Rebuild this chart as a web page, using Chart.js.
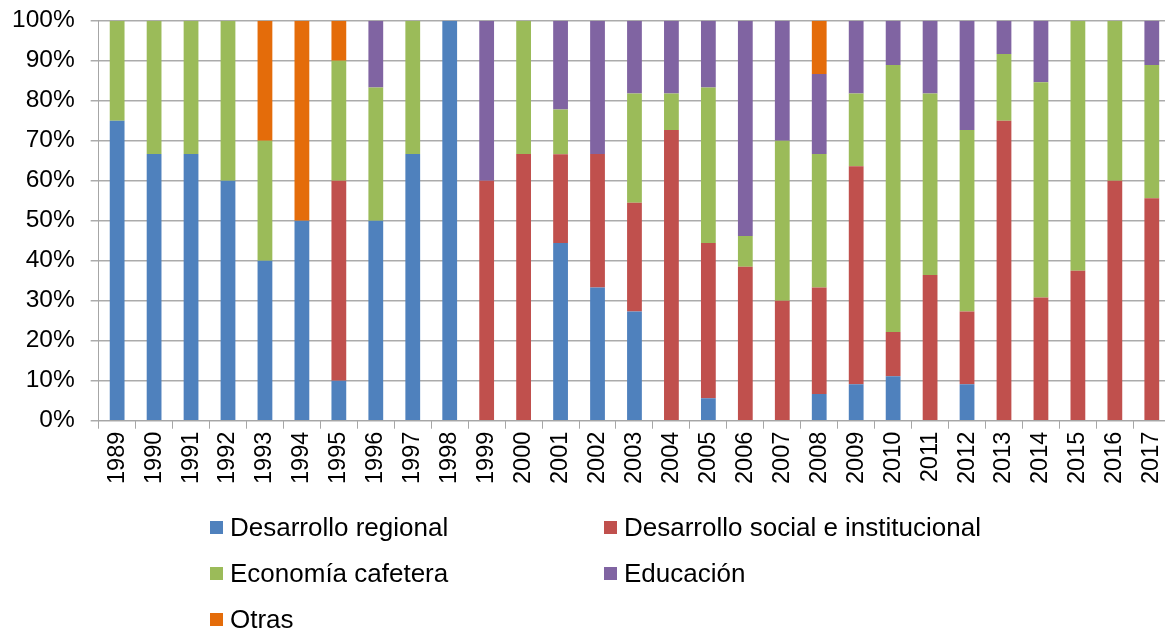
<!DOCTYPE html>
<html>
<head>
<meta charset="utf-8">
<title>Distribución por área</title>
<script src="https://cdn.jsdelivr.net/npm/chart.js@4.4.1/dist/chart.umd.min.js"></script>
<style>
  html, body { margin: 0; padding: 0; background: #fff; overflow: hidden; }
  #wrap { position: relative; width: 1165px; height: 630px; overflow: hidden; }
  #chart { position: absolute; left: 0; top: -10px; }
  #legend { position: absolute; left: 0; top: 0; width: 1165px; height: 630px;
            font-family: "Liberation Sans", Arial, sans-serif; font-size: 26px; color: #000; }
  .item { position: absolute; display: flex; align-items: center; height: 30px; white-space: nowrap; }
  .box { width: 13px; height: 13px; margin-right: 7px; }
</style>
</head>
<body>
<div id="wrap">
  <canvas id="chart" width="1183" height="500"></canvas>
  <div id="legend"></div>
</div>
<script>
// categories
const years = ['1989', '1990', '1991', '1992', '1993', '1994', '1995', '1996', '1997', '1998',
  '1999', '2000', '2001', '2002', '2003', '2004', '2005', '2006', '2007', '2008',
  '2009', '2010', '2011', '2012', '2013', '2014', '2015', '2016', '2017'];

// shares per year (%)
const desarrolloRegional = [75, 66.7, 66.7, 60, 40, 50, 10, 50, 66.7, 100,
  0, 0, 44.4, 33.3, 27.3, 0, 5.6, 0, 0, 6.7,
  9.1, 11.1, 0, 9.1, 0, 0, 0, 0, 0];
const desarrolloSocial = [0, 0, 0, 0, 0, 0, 50, 0, 0, 0,
  60, 66.7, 22.2, 33.4, 27.2, 72.7, 38.8, 38.5, 30, 26.6,
  54.5, 11.1, 36.4, 18.2, 75, 30.8, 37.5, 60, 55.6];
const economiaCafetera = [25, 33.3, 33.3, 40, 30, 0, 30, 33.3, 33.3, 0,
  0, 33.3, 11.2, 0, 27.3, 9.1, 38.9, 7.7, 40, 33.4,
  18.2, 66.7, 45.4, 45.4, 16.7, 53.8, 62.5, 40, 33.3];
const educacion = [0, 0, 0, 0, 0, 0, 0, 16.7, 0, 0,
  40, 0, 22.2, 33.3, 18.2, 18.2, 16.7, 53.8, 30, 20,
  18.2, 11.1, 18.2, 27.3, 8.3, 15.4, 0, 0, 11.1];
const otras = [0, 0, 0, 0, 30, 50, 10, 0, 0, 0,
  0, 0, 0, 0, 0, 0, 0, 0, 0, 13.3,
  0, 0, 0, 0, 0, 0, 0, 0, 0];

const series = [
  { label: 'Desarrollo regional', data: desarrolloRegional, color: '#4F81BD' },
  { label: 'Desarrollo social e institucional', data: desarrolloSocial, color: '#C0504D' },
  { label: 'Economía cafetera', data: economiaCafetera, color: '#9BBB59' },
  { label: 'Educación', data: educacion, color: '#8064A2' },
  { label: 'Otras', data: otras, color: '#E46C0A' }
];

Chart.defaults.font.family = '"Liberation Sans", Arial, sans-serif';
Chart.defaults.color = '#000';

const ctx = document.getElementById('chart').getContext('2d');
const chart = new Chart(ctx, {
  type: 'bar',
  data: {
    labels: years,
    datasets: series.map(s => ({
      label: s.label,
      data: s.data,
      backgroundColor: s.color,
      borderWidth: 0,
      barPercentage: 0.4,
      categoryPercentage: 1
    }))
  },
  options: {
    responsive: false,
    animation: false,
    devicePixelRatio: 1,
    layout: { padding: { left: -4, top: 0, right: 0, bottom: 3 } },
    plugins: {
      legend: { display: false },
      tooltip: { enabled: false }
    },
    scales: {
      x: {
        stacked: true,
        grid: { drawOnChartArea: false, offset: true, tickLength: 8, color: '#a6a6a6' },
        border: { color: '#a6a6a6' },
        ticks: { minRotation: 90, maxRotation: 90, autoSkip: false, padding: 3, font: { size: 23.5 } }
      },
      y: {
        stacked: true,
        min: 0,
        max: 100,
        grid: { color: '#ababab', lineWidth: 1.5, tickLength: 8 },
        border: { color: '#a6a6a6' },
        ticks: { stepSize: 10, padding: 16, font: { size: 24.5 }, callback: v => v + '%' }
      }
    }
  }
});

// legend in two columns, like the original
const legend = document.getElementById('legend');
const colX = [210, 604];
const rowY = [512, 558, 604];
chart.data.datasets.forEach((ds, i) => {
  const item = document.createElement('div');
  item.className = 'item';
  item.style.left = colX[i % 2] + 'px';
  item.style.top = rowY[Math.floor(i / 2)] + 'px';
  const box = document.createElement('span');
  box.className = 'box';
  box.style.background = ds.backgroundColor;
  const txt = document.createElement('span');
  txt.textContent = ds.label;
  item.appendChild(box);
  item.appendChild(txt);
  legend.appendChild(item);
});
</script>
</body>
</html>
